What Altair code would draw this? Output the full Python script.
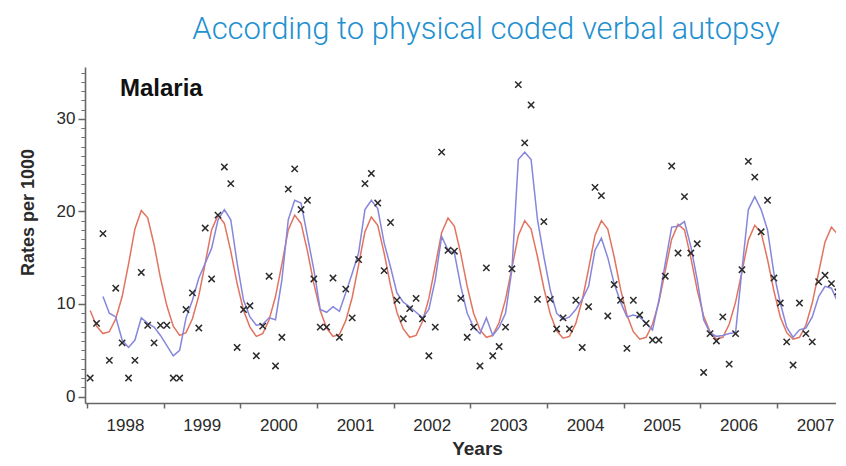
import altair as alt
import pandas as pd

# ---- data (monthly, Jan 1998 .. Dec 2007) ----
year_ticks = [1998, 1999, 2000, 2001, 2002, 2003, 2004, 2005, 2006, 2007]

observed = [
    2.0, 7.9, 17.6, 3.9, 11.7, 5.8, 2.0, 3.9, 13.4, 7.7, 5.8, 7.7,
    7.7, 2.0, 2.0, 9.4, 11.2, 7.4, 18.2, 12.7, 19.6, 24.8, 23.0, 5.3,
    9.4, 9.8, 4.4, 7.6, 13.0, 3.3, 6.4, 22.4, 24.6, 20.2, 21.2, 12.7,
    7.5, 7.5, 12.8, 6.4, 11.6, 8.5, 14.8, 23.0, 24.1, 20.9, 13.6, 18.8,
    10.4, 8.4, 9.5, 10.6, 8.4, 4.4, 7.5, 26.4, 15.8, 15.7, 10.6, 6.4,
    7.5, 3.3, 13.9, 4.4, 5.4, 7.5, 13.8, 33.7, 27.4, 31.5, 10.5, 18.9,
    10.5, 7.3, 8.5, 7.3, 10.4, 5.3, 9.7, 22.6, 21.7, 8.7, 12.1, 10.4,
    5.2, 10.4, 8.8, 7.9, 6.1, 6.1, 13.0, 24.9, 15.5, 21.6, 15.5, 16.5,
    2.6, 6.8, 6.0, 8.6, 3.5, 6.8, 13.7, 25.4, 23.7, 17.8, 21.2, 12.8,
    10.1, 5.9, 3.4, 10.1, 6.8, 5.9, 12.4, 13.1, 12.2, 11.3, 6.5, None,
]

smoothed = [
    None, None, 10.8, 9.0, 8.6, 6.1, 5.3, 6.1, 8.5, 7.9, 7.5, 6.6,
    5.5, 4.4, 5.0, 8.5, 10.4, 12.8, 14.4, 16.0, 19.1, 20.2, 19.1, 14.4,
    10.4, 8.6, 7.7, 7.8, 8.5, 8.3, 12.6, 19.1, 21.2, 20.9, 17.3, 13.7,
    9.4, 9.1, 9.7, 9.2, 11.2, 13.3, 15.5, 20.2, 21.2, 20.3, 16.6, 14.0,
    11.2, 10.2, 9.7, 9.1, 8.5, 9.4, 12.6, 17.3, 15.8, 15.5, 11.9, 9.0,
    7.5, 6.8, 8.5, 6.6, 7.5, 9.0, 13.7, 25.6, 26.4, 25.6, 19.1, 15.1,
    11.5, 9.0, 8.3, 8.6, 9.4, 10.5, 11.9, 15.8, 17.1, 15.0, 12.2, 10.2,
    8.6, 8.8, 8.6, 7.9, 7.2, 10.4, 14.4, 18.3, 18.4, 18.9, 16.2, 12.6,
    8.3, 6.9, 6.5, 6.6, 6.8, 6.9, 13.7, 20.2, 21.6, 20.2, 18.0, 13.3,
    10.1, 7.5, 6.4, 7.2, 7.4, 8.6, 10.8, 11.9, 11.7, 10.2, None, None,
]

model = [
    9.3, 7.6, 6.8, 7.0, 8.4, 10.8, 14.3, 18.1, 20.1, 19.3, 16.4, 12.8,
    9.8, 7.6, 6.6, 6.9, 8.4, 10.9, 14.4, 18.0, 19.6, 18.7, 15.7, 12.2,
    9.3, 7.5, 6.5, 6.8, 8.3, 10.8, 14.3, 18.0, 19.6, 18.7, 15.7, 12.2,
    9.3, 7.4, 6.5, 6.7, 8.2, 10.7, 14.2, 17.8, 19.4, 18.5, 15.5, 12.0,
    9.1, 7.3, 6.4, 6.6, 8.1, 10.6, 14.1, 17.7, 19.3, 18.4, 15.4, 11.9,
    9.0, 7.2, 6.4, 6.6, 8.0, 10.5, 13.9, 17.4, 19.0, 18.1, 15.1, 11.7,
    8.9, 7.1, 6.3, 6.5, 7.9, 10.4, 13.8, 17.4, 19.0, 18.1, 15.1, 11.6,
    8.8, 7.0, 6.2, 6.4, 7.8, 10.2, 13.6, 17.0, 18.6, 18.0, 15.0, 11.5,
    8.7, 7.0, 6.2, 6.4, 7.8, 10.2, 13.5, 16.9, 18.5, 17.7, 14.8, 11.4,
    8.6, 6.9, 6.2, 6.4, 7.7, 10.1, 13.4, 16.7, 18.3, 17.5, 14.6, 11.2,
]

y_major = [0, 10, 20, 30]
y_minor = list(range(0, 36))

TITLE = "According to physical coded verbal autopsy"
PANEL = "Malaria"

n = len(model)
df = pd.DataFrame({
    "t": [1998 + (i + 0.5) / 12 for i in range(n)],
    "observed": observed,
    "smoothed": smoothed,
    "model": model,
})

FONT = "Liberation Sans"
xscale = alt.Scale(domain=[1997.974, 2007.768], nice=False, zero=False)
yscale = alt.Scale(domain=[-0.7, 35.6], nice=False, zero=False)

x_axis = alt.Axis(
    values=year_ticks, format="d", labelOffset=38, tickSize=5, labelPadding=9,
    labelFontSize=17, labelColor="#2a2a2a", labelFont=FONT,
    domainColor="#666666", domainWidth=1.6, tickColor="#666666", tickWidth=1.5,
    title="Years", titleFont=FONT, titleFontSize=19, titleFontWeight="bold",
    titleColor="#2a2a2a", titleBaseline="alphabetic", titleY=51, titleX=392,
    labelOverlap=False, labelBound=False, grid=False,
)

y_axis_major = alt.Axis(
    values=y_major, orient="left", tickSize=7, labelPadding=3,
    labelFontSize=17, labelColor="#2a2a2a", labelFont=FONT,
    domainColor="#666666", domainWidth=1.6, tickColor="#666666", tickWidth=1.5,
    title="Rates per 1000", titleFont=FONT, titleFontSize=18, titleFontWeight="bold",
    titleColor="#2a2a2a", titleBaseline="middle", titleX=-57, titleY=145,
    grid=False,
)
y_axis_minor = alt.Axis(
    values=y_minor, orient="left", tickSize=4, labels=False, title=None,
    domain=False, tickColor="#777777", tickWidth=1, grid=False,
)

base = alt.Chart(df)
X = alt.X("t:Q", scale=xscale, axis=x_axis)

red = base.mark_line(color="#e2735f", strokeWidth=1.5, clip=True).encode(
    x=X,
    y=alt.Y("model:Q", scale=yscale, axis=y_axis_minor),
)
blue = base.mark_line(color="#8686dc", strokeWidth=1.5, clip=True).encode(
    x=X,
    y=alt.Y("smoothed:Q", scale=yscale, axis=y_axis_minor),
)
pts = base.mark_point(
    shape="M-1,-1L1,1M-1,1L1,-1", filled=False, size=40, strokeWidth=1.5,
    color="#2b2b2b", opacity=1, clip=True,
).encode(
    x=X,
    y=alt.Y("observed:Q", scale=yscale, axis=y_axis_major),
)

panel = alt.Chart(pd.DataFrame({"label": [PANEL]})).mark_text(
    align="left", baseline="alphabetic", font=FONT, fontSize=24,
    fontWeight="bold", color="#111111",
).encode(text="label:N", x=alt.value(35), y=alt.value(29))

title = alt.Chart(pd.DataFrame({"label": [TITLE]})).mark_text(
    align="center", baseline="alphabetic", font="Roboto", fontSize=31,
    fontWeight=300, color="#2390d0",
).encode(text="label:N", x=alt.value(401), y=alt.value(-28))

chart = alt.layer(red, blue, pts, panel, title).resolve_scale(
    y="shared", x="shared"
).resolve_axis(y="independent").properties(
    width=751, height=336,
    autosize=alt.AutoSizeParams(type="none"),
    padding={"left": 77, "top": 59, "right": 0, "bottom": 55},
).configure_view(strokeWidth=0)

chart.save("out.html", embed_options={"renderer": "svg", "actions": False})
